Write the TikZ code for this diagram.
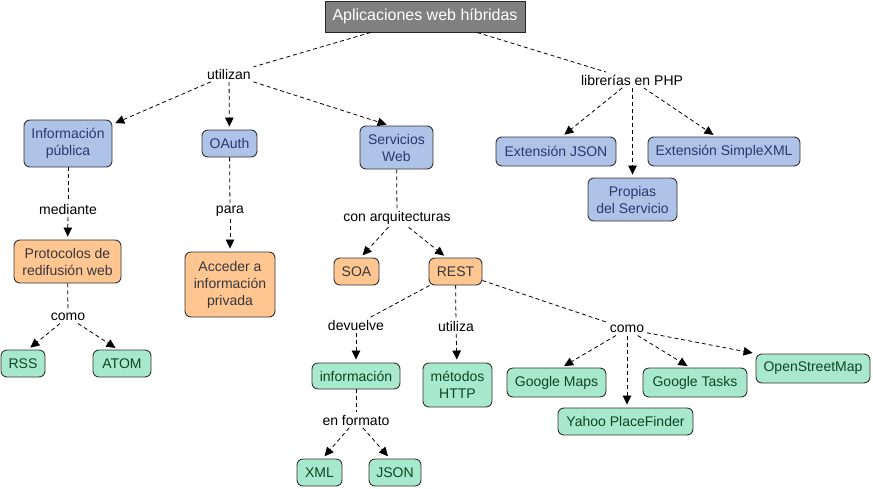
\documentclass[tikz,border=0pt]{standalone}
\usepackage{fontspec}
\setmainfont{Liberation Sans}
\usetikzlibrary{arrows.meta}
\definecolor{cblue}{RGB}{175,195,233}
\definecolor{cbluetext}{RGB}{40,58,110}
\definecolor{corange}{RGB}{255,198,145}
\definecolor{corangetext}{RGB}{55,55,60}
\definecolor{cgreen}{RGB}{168,232,204}
\definecolor{cgreentext}{RGB}{15,70,35}
\definecolor{cgray}{RGB}{128,128,128}
\definecolor{cborder}{RGB}{50,50,50}
\begin{document}
\begin{tikzpicture}[x=1pt,y=-1pt,
  box/.style={draw=cborder, line width=0.9pt, rounded corners=6pt, align=center,
    inner sep=0pt, font=\fontsize{14}{17}\selectfont},
  bluebox/.style={box, fill=cblue, text=cbluetext},
  orangebox/.style={box, fill=corange, text=corangetext},
  greenbox/.style={box, fill=cgreen, text=cgreentext},
  titlebox/.style={draw=black!85, line width=0.9pt, fill=cgray, text=white,
    inner sep=0pt, font=\fontsize{16}{19}\selectfont},
  lbl/.style={inner sep=2.5pt, font=\fontsize{14}{17}\selectfont, text=black},
  dim/.style 2 args={minimum width=#1pt, minimum height=#2pt},
  link/.style={line width=0.8pt, dash pattern=on 4pt off 3pt},
  arr/.style={link, -{Triangle[length=9pt,width=8.5pt]}, shorten >=3pt}
]
\useasboundingbox (0,0) rectangle (873,488);

% nodes
\node[titlebox, dim={200}{31}] (title) at (425,16.5) {Aplicaciones web híbridas};
\node[lbl] (utilizan) at (229,74) {utilizan};
\node[lbl] (librerias) at (632,80) {librerías en PHP};

\node[bluebox, dim={88}{47}] (infopub) at (68,143.5) {Información\\pública};
\node[bluebox, dim={55}{27}] (oauth) at (229.5,143.5) {OAuth};
\node[bluebox, dim={73}{43}] (servicios) at (396.5,147.5) {Servicios\\Web};
\node[bluebox, dim={120}{29}] (extjson) at (556,151.5) {Extensión JSON};
\node[bluebox, dim={152}{29}] (extxml) at (724,151.5) {Extensión SimpleXML};
\node[bluebox, dim={89}{43}] (propias) at (632.5,199.5) {Propias\\del Servicio};

\node[lbl] (mediante) at (68,209) {mediante};
\node[lbl] (para) at (230,211) {para};
\node[lbl] (conarq) at (397,218) {con arquitecturas};

\node[orangebox, dim={107}{43}] (protocolos) at (67.5,261.5) {Protocolos de\\redifusión web};
\node[orangebox, dim={90}{65}] (acceder) at (230,284.5) {Acceder a\\información\\privada};
\node[orangebox, dim={45}{27}] (soa) at (356.5,271.5) {SOA};
\node[orangebox, dim={53}{27}] (rest) at (455.5,271.5) {REST};

\node[lbl] (como1) at (68,317) {como};
\node[greenbox, dim={44}{27}] (rss) at (23,363.5) {RSS};
\node[greenbox, dim={58}{27}] (atom) at (122,363.5) {ATOM};

\node[lbl] (devuelve) at (356,325) {devuelve};
\node[lbl] (utiliza) at (456,326) {utiliza};
\node[lbl] (como2) at (627,329) {como};

\node[greenbox, dim={88}{26}] (informacion) at (356,376) {información};
\node[greenbox, dim={69}{44}] (metodos) at (457.5,385) {métodos\\HTTP};
\node[greenbox, dim={99}{29}] (gmaps) at (556.5,382.5) {Google Maps};
\node[greenbox, dim={104}{29}] (gtasks) at (695,382.5) {Google Tasks};
\node[greenbox, dim={114}{29}] (osm) at (813,368.5) {OpenStreetMap};
\node[greenbox, dim={135}{27}] (yahoo) at (625.5,421.5) {Yahoo PlaceFinder};

\node[lbl] (enformato) at (356,420) {en formato};
\node[greenbox, dim={45}{27}] (xml) at (319.5,472.5) {XML};
\node[greenbox, dim={52}{27}] (json) at (395,472.5) {JSON};

% connectors
\draw[link] (title) -- (utilizan);
\draw[link] (title) -- (librerias);
\draw[arr] (utilizan) -- (infopub);
\draw[arr] (utilizan) -- (oauth);
\draw[arr] (utilizan) -- ([xshift=-7pt]servicios.north);
\draw[arr] (librerias) -- ([xshift=6pt]extjson.north);
\draw[arr] (librerias) -- ([xshift=-8pt]extxml.north);
\draw[arr] (librerias.south -| propias.north) -- (propias.north);

\draw[link] (infopub) -- (mediante);
\draw[arr] (mediante) -- (protocolos);
\draw[link] (oauth) -- (para);
\draw[arr] (para) -- (acceder);
\draw[link] (servicios) -- (conarq);
\draw[arr] (conarq) -- ([xshift=4pt]soa.north);
\draw[arr] (conarq) -- ([xshift=-9pt]rest.north);

\draw[link] (protocolos) -- (como1);
\draw[arr] (como1) -- ([xshift=5pt]rss.north);
\draw[arr] (como1) -- ([xshift=-4pt]atom.north);

\draw[link] (rest) -- (devuelve);
\draw[arr] (devuelve) -- (informacion);
\draw[link] (rest) -- (utiliza);
\draw[arr] (utiliza) -- (metodos);
\draw[link] (rest) -- (como2);
\draw[arr] (como2) -- ([xshift=5pt]gmaps.north);
\draw[arr] (como2) -- (yahoo.north -| como2.south);
\draw[arr] (como2) -- ([xshift=-5pt]gtasks.north);
\draw[arr] (como2) -- (osm.north west);

\draw[link] (informacion) -- (enformato);
\draw[arr] (enformato) -- ([xshift=3pt]xml.north);
\draw[arr] (enformato) -- ([xshift=-5pt]json.north);
\end{tikzpicture}
\end{document}
